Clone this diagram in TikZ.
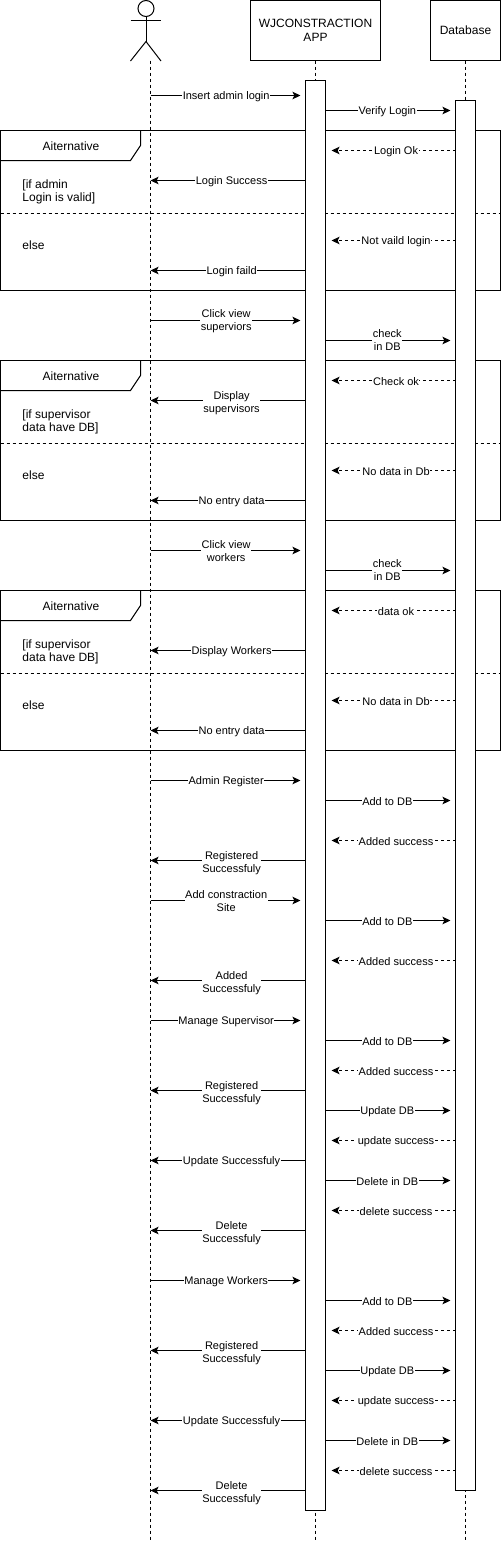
\documentclass[tikz,border=0pt]{standalone}
\usepackage{fontspec}
\setmainfont{Liberation Sans}
\usetikzlibrary{arrows.meta}
\tikzset{
  ln/.style={draw=black,line width=0.75pt},
  dsh/.style={dash pattern=on 2.25pt off 2.25pt},
  lifeline/.style={ln,dsh},
  box/.style={ln,fill=white,minimum width=#1*0.75pt,minimum height=45pt,inner sep=0pt,align=center,font=\fontsize{9}{10.5}\selectfont,anchor=north west,outer sep=0pt},
  bar/.style={ln,fill=white},
  lab/.style={fill=white,inner sep=0.4pt,outer sep=0pt,align=center,font=\fontsize{8.25}{9.75}\selectfont,yshift=-1pt},
  txt/.style={inner sep=0pt,outer sep=0pt,align=left,anchor=west,font=\fontsize{9}{9.75}\selectfont,yshift=-0.75pt},
  tabtxt/.style={inner sep=0pt,outer sep=0pt,font=\fontsize{9}{11.25}\selectfont,yshift=-0.75pt},
  solidmsg/.style={ln,-{Stealth[length=6pt,width=5.6pt,inset=1.4pt]}},
  dashmsg/.style={ln,dsh,-{Stealth[length=6pt,width=5.6pt,inset=1.4pt]}}
}
% message: style, from x, to x, y, label, label offset
\newcommand{\msgline}[6]{%
  \coordinate (s#4) at (#2,#4);
  \coordinate (e#4) at (#3,#4);
  \draw[#1] (s#4) -- (e#4) node[midway,lab,#6] (m#4) {#5};
}
\newcommand{\userReq}[2]{\msgline{solidmsg}{150}{300}{#1}{#2}{xshift=0.5pt}}
\newcommand{\userReqB}[2]{\msgline{solidmsg}{150}{300}{#1}{#2}{xshift=0.5pt,yshift=0.75pt}}
\newcommand{\dbReq}[2]{\msgline{solidmsg}{325}{450}{#1}{#2}{xshift=-0.5pt}}
\newcommand{\dbReqB}[2]{\msgline{solidmsg}{325}{450}{#1}{#2}{xshift=-0.5pt,yshift=1.1pt}}
\newcommand{\dbResp}[2]{\msgline{dashmsg}{455}{331}{#1}{#2}{xshift=1.9pt}}
\newcommand{\userResp}[2]{\msgline{solidmsg}{305}{150}{#1}{#2}{xshift=2.7pt}}
\newcommand{\userRespB}[2]{\msgline{solidmsg}{305}{150}{#1}{#2}{xshift=2.7pt,yshift=-1.1pt}}
% frame: name, top y, divider y, bottom y, condition, cond y, else y
\newcommand{\altframe}[7]{%
  \node[draw=black,line width=0.75pt,minimum width=375pt,minimum height=120pt,inner sep=0pt,outer sep=0pt,anchor=north west] (#1) at (0,#2) {};
  \coordinate (#1dl) at (0,#3);
  \coordinate (#1dr) at (500,#3);
  \draw[lifeline] (#1dl) -- (#1dr);
  \draw[ln] (140,#2) -- ++(0,15) -- ++(-10,15) -- ++(-130,0);
  \node[tabtxt] (#1t) at (70.5,#2+15) {Aiternative};
  \node[txt] (#1c) at (22,#6) {#5};
  \node[txt] (#1e) at (22,#7) {else};
}
\begin{document}
\begin{tikzpicture}[x=0.75pt,y=-0.75pt]
\useasboundingbox (0,0) rectangle (502,1543);
\begin{scope}[shift={(0.5,0.5)}]
% frames
\altframe{fa}{130}{213}{290}{[if admin\\Login is valid]}{190}{244}
\altframe{fb}{360}{443}{520}{[if supervisor\\data have DB]}{420}{474}
\altframe{fc}{590}{673}{750}{[if supervisor\\data have DB]}{650}{704}
% participants
\node[box=130] (app) at (250,0) {WJCONSTRACTION\\APP};
\node[box=70] (db) at (430,0) {Database};
% actor
\draw[ln] (145.5,8) circle[radius=8];
\draw[ln] (145.5,16) -- (145.5,41);
\draw[ln] (130,20) -- (160.5,20);
\draw[ln] (130,60.5) -- (145.5,41) -- (160.5,60.5);
% lifelines
\coordinate (usertop) at (150,60);
\coordinate (userend) at (150,1540);
\coordinate (append) at (315,1540);
\coordinate (dbend) at (465,1540);
\draw[lifeline] (usertop) -- (userend);
\draw[lifeline] (app.south) -- (append);
\draw[lifeline] (db.south) -- (dbend);
% activations
\node[bar,minimum width=15pt,minimum height=1072.5pt,inner sep=0pt,outer sep=0pt,anchor=north west] (appbar) at (305,80) {};
\node[bar,minimum width=15pt,minimum height=1042.5pt,inner sep=0pt,outer sep=0pt,anchor=north west] (dbbar) at (455,100) {};
% messages
\userReq{95}{Insert admin login}
\userReqB{320}{Click view\\superviors}
\userReqB{550}{Click view\\workers}
\userReq{780}{Admin Register}
\userReqB{900}{Add constraction\\Site}
\userReq{1020}{Manage Supervisor}
\userReq{1280}{Manage Workers}
\dbReq{110}{Verify Login}
\dbReqB{340}{check\\in DB}
\dbReqB{570}{check\\in DB}
\dbReq{800}{Add to DB}
\dbReq{920}{Add to DB}
\dbReq{1040}{Add to DB}
\dbReq{1110}{Update DB}
\dbReq{1180}{Delete in DB}
\dbReq{1300}{Add to DB}
\dbReq{1370}{Update DB}
\dbReq{1440}{Delete in DB}
\dbResp{150}{Login Ok}
\dbResp{240}{Not vaild login}
\dbResp{380}{Check ok}
\dbResp{470}{No data in Db}
\dbResp{610}{data ok}
\dbResp{700}{No data in Db}
\dbResp{840}{Added success}
\dbResp{960}{Added success}
\dbResp{1070}{Added success}
\dbResp{1140}{update success}
\dbResp{1210}{delete success}
\dbResp{1330}{Added success}
\dbResp{1400}{update success}
\dbResp{1470}{delete success}
\userResp{180}{Login Success}
\userResp{270}{Login faild}
\userRespB{400}{Display\\supervisors}
\userResp{500}{No entry data}
\userResp{650}{Display Workers}
\userResp{730}{No entry data}
\userRespB{860}{Registered\\Successfuly}
\userRespB{980}{Added\\Successfuly}
\userRespB{1090}{Registered\\Successfuly}
\userResp{1160}{Update Successfuly}
\userRespB{1230}{Delete\\Successfuly}
\userRespB{1350}{Registered\\Successfuly}
\userResp{1420}{Update Successfuly}
\userRespB{1490}{Delete\\Successfuly}
\end{scope}
\end{tikzpicture}
\end{document}
